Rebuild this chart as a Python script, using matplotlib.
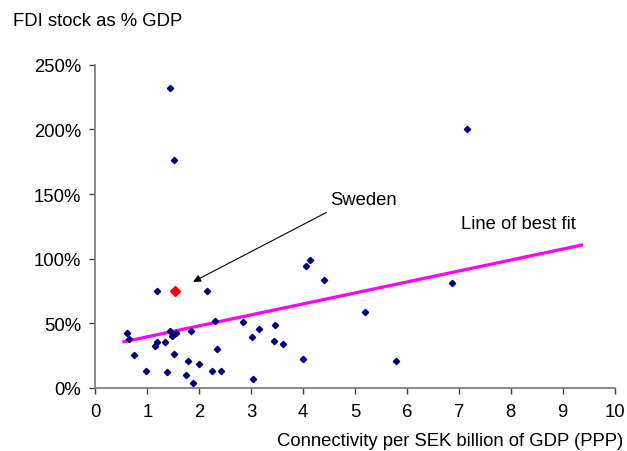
import numpy as np
import matplotlib
matplotlib.use('Agg')
import matplotlib.pyplot as plt
from matplotlib.ticker import PercentFormatter, MultipleLocator

plt.rcParams['font.family'] = ['Liberation Sans', 'DejaVu Sans']

# connectivity (x) vs FDI stock % GDP (y)
conn_x = [0.61, 0.65, 0.74, 0.97, 1.18, 2.15, 1.14, 1.18, 1.33, 1.38,
          1.43, 1.47, 1.52, 1.55, 1.51, 1.74, 1.79, 1.84, 1.87, 2.00,
          2.24, 2.30, 2.34, 2.42, 2.85, 3.01, 3.03, 3.14, 3.43, 3.45,
          3.62, 4.00, 4.40, 5.19, 5.79, 6.86, 4.05, 4.13, 1.43, 1.51,
          7.15]
fdi_y = [42.5, 37.9, 25.7, 13.4, 75.0, 75.2, 32.2, 35.8, 35.5, 12.4,
         43.8, 40.2, 41.7, 42.5, 26.0, 10.0, 21.1, 44.0, 3.9, 18.5,
         13.4, 51.5, 30.4, 13.4, 50.7, 39.2, 7.0, 45.6, 36.3, 48.9,
         34.0, 22.4, 83.2, 58.5, 21.1, 81.1, 94.0, 98.9, 231.8, 176.7,
         200.4]

sweden_x = [1.53]
sweden_y = [75.2]

# line of best fit end points
fit_x = [0.55, 9.36]
fit_y = [35.8, 110.5]

fig = plt.figure(figsize=(6.27, 4.52), dpi=100)
ax = fig.add_axes([0.1523, 0.1394, 0.828, 0.7152])

ax.plot(fit_x, fit_y, color='#ff00ff', lw=2.3, zorder=2)
ax.plot(conn_x, fdi_y, linestyle='none', marker='D', ms=3.2,
        color='#000080', zorder=3)
ax.plot(sweden_x, sweden_y, linestyle='none', marker='D', ms=5.2,
        color='#ff0000', zorder=4)

ax.annotate('', xy=(1.88, 82.1), xytext=(4.45, 135.8),
            arrowprops=dict(arrowstyle='-|>', color='black', lw=0.8,
                            mutation_scale=11, shrinkA=0, shrinkB=0))
ax.text(4.52, 146, 'Sweden', fontsize=13.3, va='center', ha='left')
ax.text(7.04, 127, 'Line of best fit', fontsize=13.3, va='center', ha='left')

ax.set_xlim(0, 10)
ax.set_ylim(0, 250)
ax.xaxis.set_major_locator(MultipleLocator(1))
ax.yaxis.set_major_locator(MultipleLocator(50))
ax.yaxis.set_major_formatter(PercentFormatter(decimals=0))

for s in ['top', 'right']:
    ax.spines[s].set_visible(False)
for s in ['left', 'bottom']:
    ax.spines[s].set_color('#808080')
    ax.spines[s].set_linewidth(1.3)
ax.tick_params(axis='both', direction='out', length=4, width=1,
               color='#404040', labelsize=13.3, pad=6.5)

fig.text(13 / 627, 1 - 22 / 452, 'FDI stock as % GDP', fontsize=13.3,
         ha='left', va='center')
fig.text(623 / 627, 2 / 452, 'Connectivity per SEK billion of GDP (PPP)',
         fontsize=13.3, ha='right', va='bottom')

fig.savefig('out.png', dpi=100)
